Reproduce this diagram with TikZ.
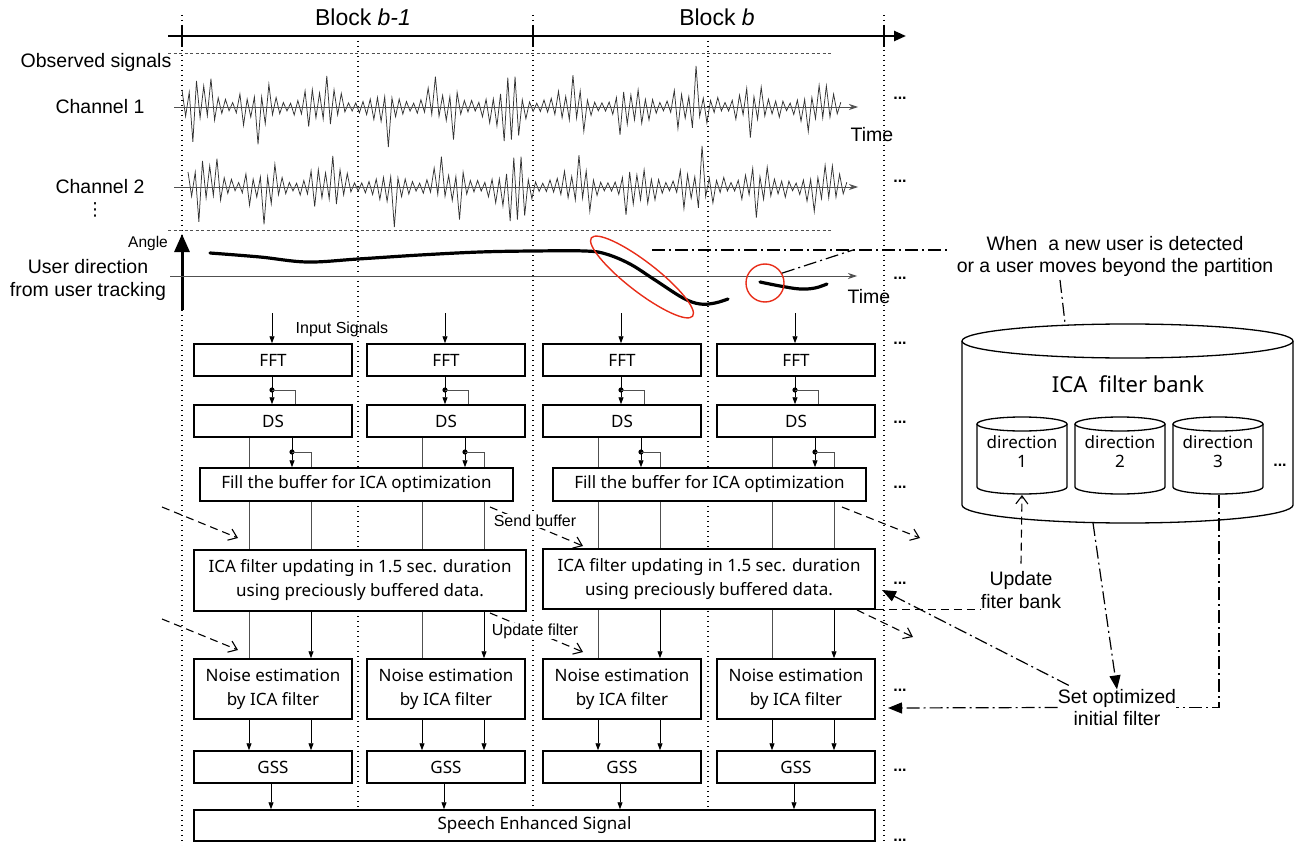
\documentclass[tikz,border=0pt]{standalone}
\usepackage{fontspec}
\setmainfont{Liberation Sans}
\newfontfamily\bxf{Noto Sans}
\newfontfamily\symf{DejaVu Sans}
\usetikzlibrary{arrows.meta,calc}
\newcommand\fs[2]{\fontsize{#1}{#2}\selectfont}
\definecolor{redc}{RGB}{232,45,25}
\definecolor{lgray}{RGB}{80,80,80}
\begin{document}
\begin{tikzpicture}[x=1pt,y=-1pt,
  box/.style={draw, line width=1.5pt, fill=white, inner sep=0pt, font=\bxf\fs{17}{24}, align=center},
  lbl/.style={inner sep=0pt, align=center},
  dotv/.style={line width=1.1pt, dash pattern=on 1.3pt off 3.7pt},
  dashh/.style={line width=0.8pt, dash pattern=on 3pt off 2.5pt, lgray},
  thinln/.style={line width=0.9pt, lgray},
  tarr/.style={line width=0.9pt, -{Triangle[length=7pt,width=5pt]}},
  dsharr/.style={line width=1.1pt, dash pattern=on 8pt off 5pt, -{Straight Barb[length=8pt,width=12pt]}},
  dsh/.style={line width=1.1pt, dash pattern=on 8pt off 5pt},
  ddot/.style={line width=1.2pt, dash pattern=on 13pt off 4pt on 2pt off 4pt},
  fill tip/.style={-{Triangle[length=14pt,width=11pt]}},
  dots/.style={font=\bfseries\fs{16}{18}, inner sep=0pt},
  wavest/.style={line width=0.75pt, black!80},
  axarr/.style={line width=0.9pt, lgray, -{Stealth[length=9pt,width=6pt]}},
]
\useasboundingbox (0,0) rectangle (1309,845);

% ---------- vertical dotted guides ----------
\foreach \x in {182,533,884} \draw[dotv] (\x,15) -- (\x,843);
\foreach \x in {358,708} \draw[dotv] (\x,36) -- (\x,808);

% ---------- top time line ----------
\draw[line width=2.4pt, -{Triangle[length=12pt,width=10pt]}] (168,36) -- (906,36);
\foreach \x in {182,533,884} \draw[line width=2.4pt] (\x,25) -- (\x,47);
\node[lbl, font=\fs{23}{27}] (blk1) at (363,17) {Block \textit{b-1}};
\node[lbl, font=\fs{23}{27}] (blk2) at (717,17) {Block \textit{b}};

% ---------- observed signals ----------
\draw[dashh] (168,53) -- (832,53);
\draw[dashh] (168,230) -- (832,230);
\node[lbl, font=\fs{19.5}{22}] (obs) at (96,62) {Observed signals};
\node[lbl, font=\fs{19.5}{22}] (ch1) at (100,107) {Channel 1};
\node[lbl, font=\fs{19.5}{22}] (ch2) at (100,187) {Channel 2};
\node[lbl, font=\symf\fs{18}{20}] (vd) at (95,210) {⋮};
\pgfmathsetseed{23}
\draw[wavest] (182,90) \foreach \i in {1,...,182}{ -- ({182+\i*3.62},{107+(2*mod(\i,2)-1)*(3+(0.55+0.45*sin(\i*21))*(7+33*rnd^3))}) };
\pgfmathsetseed{23}
\draw[wavest] (188,172) \foreach \i in {1,...,182}{ -- ({188+\i*3.62},{187+(2*mod(\i,2)-1)*(3+(0.55+0.45*sin(\i*21))*(7+33*rnd^3))}) };
\draw[axarr] (174,107) -- (858,107);
\draw[axarr] (174,187) -- (858,187);
\node[lbl, font=\fs{19.5}{22}] (t1) at (872,135) {Time};

% ---------- user direction ----------
\draw[line width=3pt, -{Triangle[length=18pt,width=15pt]}] (182,310) -- (182,234);
\node[lbl, font=\fs{15.5}{18}] (angle) at (148,243) {Angle};
\node[lbl, font=\fs{19.5}{23}] (udir) at (88,279.5) {User direction\\from user tracking};
\draw[axarr] (170,276) -- (857,276);
\node[lbl, font=\fs{19.5}{22}] (t2) at (869,297) {Time};
\draw[line width=3.2pt, line cap=round] plot[smooth, tension=0.6] coordinates
  {(210,253) (260,257) (307,262) (358,259) (420,255) (480,252) (533,251) (585,251) (606,254) (630,264) (655,280) (683,298) (700,304) (715,303) (728,299)};
\draw[line width=3.2pt, line cap=round] plot[smooth, tension=0.6] coordinates
  {(760,282) (780,286) (800,289) (815,288) (827,284)};
\draw[redc, line width=1.4pt, rotate around={-37.7:(642,277)}] (642,277) ellipse [x radius=64, y radius=15];
\node[draw=redc, line width=1.4pt, circle, minimum size=38pt, inner sep=0pt] (newu) at (765,283) {};
\coordinate (hl) at (652,250);
\coordinate (hr) at (948,250);
\coordinate (hj) at (853,250);
\draw[ddot] (hl) -- (hr);
\draw[ddot] (newu.30) -- (hj);

% ---------- right-hand labels ----------
\node[lbl, font=\fs{19.5}{22}] (when) at (1115,256) {When\ \ a new user is detected\\or a user moves beyond the partition};

% ---------- ICA filter bank ----------
\draw[line width=1.3pt] (1127.5,341) ellipse [x radius=165.5, y radius=17];
\draw[line width=1.3pt] (962,341) -- (962,505) arc[start angle=180, end angle=0, x radius=165.5, y radius=18] -- (1293,341);
\node[lbl, font=\bxf\fs{22}{26}] (bank) at (1128,384) {ICA\ \ filter bank};
\foreach \cx/\n in {1022/1,1120/2,1218/3}{
  \draw[line width=1.3pt, fill=white] (\cx,424) ellipse [x radius=45, y radius=7];
  \draw[line width=1.3pt] (\cx-45,424) -- (\cx-45,487) arc[start angle=180, end angle=0, x radius=45, y radius=7] -- (\cx+45,424);
  \node[lbl, font=\bxf\fs{17}{19}] (dir\n) at (\cx,452) {direction\\\n};
}
\node[dots] (bdots) at (1280,465) {...};
\coordinate (banktop) at (1065,323);
\coordinate (bankbot) at (1093,523);
\coordinate (d1bot) at (1022,495);
\coordinate (d3bot) at (1219,495);
\coordinate (whenb) at (1060,280);
\draw[ddot] (whenb) -- (banktop);

\node[lbl, font=\fs{19.5}{23}] (upd) at (1021,590.5) {Update\\fiter bank};
\node[lbl, font=\fs{19.5}{21.5}] (setf) at (1117,707.5) {Set optimized\\initial filter};

% ---------- processing boxes ----------
\foreach \c/\L in {1/194,2/367,3/543,4/717}{
  \node[box, minimum width=158pt, minimum height=32pt] (fft\c) at (\L+79,360) {FFT};
  \node[box, minimum width=158pt, minimum height=32pt] (ds\c) at (\L+79,421) {DS};
  \node[box, minimum width=158pt, minimum height=60pt] (ne\c) at (\L+79,689) {Noise estimation\\by ICA filter};
  \node[box, minimum width=158pt, minimum height=32pt] (gss\c) at (\L+79,767) {GSS};
}
\node[box, minimum width=313pt, minimum height=33pt] (fill1) at (356.5,484.5) {Fill the buffer for ICA optimization};
\node[box, minimum width=313pt, minimum height=33pt] (fill2) at (709.5,484.5) {Fill the buffer for ICA optimization};
\node[box, minimum width=332pt, minimum height=61pt] (ica1) at (360,580.5) {ICA filter updating in 1.5 sec. duration\\using preciously buffered data.};
\node[box, minimum width=332pt, minimum height=60pt] (ica2) at (709,579) {ICA filter updating in 1.5 sec. duration\\using preciously buffered data.};
\node[box, minimum width=681pt, minimum height=31pt] (speech) at (534.5,825.5) {Speech Enhanced Signal};
\node[lbl, font=\fs{16}{18}] (insig) at (342,329) {Input Signals};

% ---------- connectors inside the blocks ----------
\foreach \c/\L/\b in {1/194/1,2/367/1,3/543/2,4/717/2}{
  \coordinate (xin\c) at (\L+78,313);
  \coordinate (xfb\c) at (\L+101,390);
  \coordinate (xg\c) at (\L+55,0);
  \coordinate (xa\c) at (\L+98,452);
  \coordinate (xb\c) at (\L+117,452);
  \coordinate (xs\c) at (\L+77,0);
  \draw[tarr] (xin\c) -- (xin\c |- fft\c.north);
  \draw[tarr] (xin\c |- fft\c.south) -- (xin\c |- ds\c.north);
  \fill (xin\c |- xfb\c) circle (2.6pt);
  \draw[thinln] (xin\c |- xfb\c) -- (xfb\c) -- (xfb\c |- ds\c.north);
  \draw[tarr] (xa\c |- ds\c.south) -- (xa\c |- fill\b.north);
  \fill (xa\c) circle (2.6pt);
  \draw[thinln] (xa\c) -- (xb\c) -- (xb\c |- fill\b.north);
  \draw[thinln] (xg\c |- ds\c.south) -- (xg\c |- fill\b.north);
  \draw[thinln] (xg\c |- fill\b.south) -- (xg\c |- ica\b.north);
  \draw[thinln] (xb\c |- fill\b.south) -- (xb\c |- ica\b.north);
  \draw[thinln] (xg\c |- ica\b.south) -- (xg\c |- ne\c.north);
  \draw[tarr] (xb\c |- ica\b.south) -- (xb\c |- ne\c.north);
  \draw[tarr] (xg\c |- ne\c.south) -- (xg\c |- gss\c.north);
  \draw[tarr] (xb\c |- ne\c.south) -- (xb\c |- gss\c.north);
  \draw[tarr] (xs\c |- gss\c.south) -- (xs\c |- speech.north);
}

% ---------- dashed hand-over arrows ----------
\coordinate (a1s) at (162,507); \coordinate (a1e) at (238,538);
\coordinate (a2s) at (162,619); \coordinate (a2e) at (238,650);
\coordinate (a3s) at (490,507); \coordinate (a3e) at (583,546);
\coordinate (a4s) at (490,613); \coordinate (a4e) at (583,652);
\coordinate (a5s) at (842,507); \coordinate (a5e) at (920,538);
\coordinate (a6s) at (857,610); \coordinate (a6e) at (913,637);
\draw[dsharr] (a1s) -- (a1e);
\draw[dsharr] (a2s) -- (a2e);
\draw[dsharr] (a3s) -- (a3e);
\draw[dsharr] (a4s) -- (a4e);
\draw[dsharr] (a5s) -- (a5e);
\draw[dsharr] (a6s) -- (a6e);
\node[lbl, font=\fs{16}{18}, fill=white, inner sep=1pt] (sendb) at (535,521) {Send buffer};
\node[lbl, font=\fs{16}{18}, fill=white, inner sep=1pt] (updf) at (535,631) {Update filter};

% ---------- filter bank connectors ----------
\draw[dsh, -{Straight Barb[length=8pt,width=12pt]}] ($(upd.north)+(0,-8)$) -- (d1bot);
\draw[dsh] (ica2.south east) -- (upd.west |- ica2.south east);
\draw[ddot, fill tip] (bankbot) -- (setf.north);
\draw[ddot] (d3bot) -- (d3bot |- setf.east) -- (setf.east);
\coordinate (setl) at (888,708);
\coordinate (seticl) at (882,590);
\draw[ddot, fill tip] (setf.west) -- (setl);
\draw[ddot, fill tip] ($(setf.north west)+(11,-4)$) -- (seticl);

% ---------- continuation dots ----------
\foreach \y [count=\k] in {98,181,278,343,422,487,583,690,770,840}
  \node[dots] (dd\k) at (900,\y) {...};
\end{tikzpicture}
\end{document}
